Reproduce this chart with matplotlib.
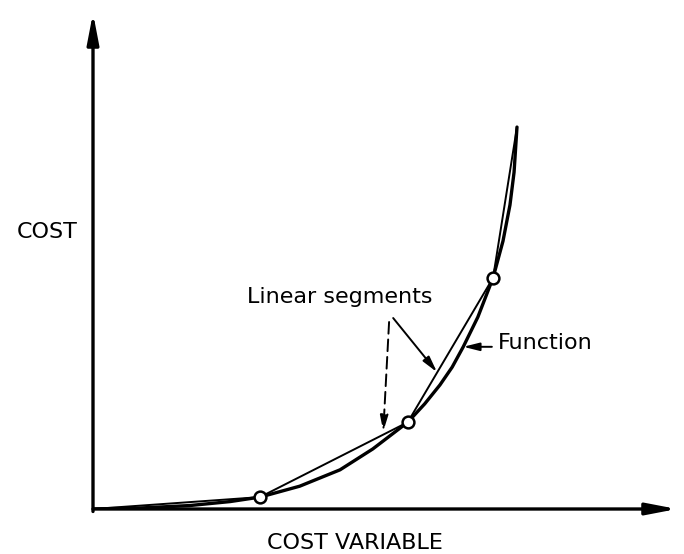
import matplotlib
matplotlib.use("Agg")
from matplotlib import pyplot as plt

# function curve (cost variable 0..100, cost 0..100)
func_x = [0, 8.0, 16.6, 23.5, 28.6, 35.4, 42.3, 47.9, 53.9, 56.8, 59.4, 61.5, 63.4, 65.9, 68.5, 70.2, 71.4, 72.1, 72.6]
func_y = [0, 0.2, 0.7, 1.5, 2.4, 4.6, 7.9, 12.1, 17.5, 21.2, 25.0, 28.6, 32.7, 38.7, 46.6, 54.0, 61.3, 67.9, 77.0]

# piecewise linear approximation
seg_x = [0, 28.6, 53.9, 68.5, 72.6]
seg_y = [0, 2.4, 17.5, 46.6, 77.0]

x_label = "COST VARIABLE"
y_label = "COST"
seg_label = "Linear segments"
func_label = "Function"

fig = plt.figure(figsize=(6.84, 5.54), dpi=100)
ax = fig.add_axes([93 / 684, 45 / 554, 584 / 684, 496 / 554])
ax.set_xlim(0, 100)
ax.set_ylim(0, 100)
ax.axis("off")

# axes with arrow heads
axis_arrow = dict(arrowstyle="-|>,head_length=1.3,head_width=0.25",
                  color="black", lw=2.4, shrinkA=0, shrinkB=0, mutation_scale=14)
ax.annotate("", xy=(100, 0), xytext=(0, 0), arrowprops=axis_arrow, annotation_clip=False)
ax.annotate("", xy=(0, 100), xytext=(0, -0.5), arrowprops=axis_arrow, annotation_clip=False)

ax.plot(func_x, func_y, color="black", lw=2.4, solid_capstyle="round", solid_joinstyle="round")
ax.plot(seg_x, seg_y, color="black", lw=1.4)
ax.plot(seg_x[1:-1], seg_y[1:-1], "o", ms=8.5, mfc="white", mec="black", mew=1.8)

fs = 16
ax.text(-7.9, 55.8, y_label, fontsize=fs, ha="center", va="center")
ax.text(44.9, -6.9, x_label, fontsize=fs, ha="center", va="center")
ax.text(42.3, 42.7, seg_label, fontsize=fs, ha="center", va="center")
ax.text(69.3, 33.5, func_label, fontsize=fs, ha="left", va="center")

# pointers
ptr = dict(arrowstyle="-|>,head_length=0.8,head_width=0.2", color="black",
           lw=1.4, shrinkA=0, shrinkB=0, mutation_scale=12)
ax.annotate("", xy=(58.9, 27.6), xytext=(51.4, 38.5), arrowprops=ptr)
ax.annotate("", xy=(49.7, 15.6), xytext=(50.7, 37.7),
            arrowprops=dict(ptr, linestyle=(0, (6, 3))))
ax.annotate("", xy=(63.4, 32.7), xytext=(68.3, 32.7), arrowprops=ptr)

fig.savefig("out.png", dpi=100, facecolor="white")
